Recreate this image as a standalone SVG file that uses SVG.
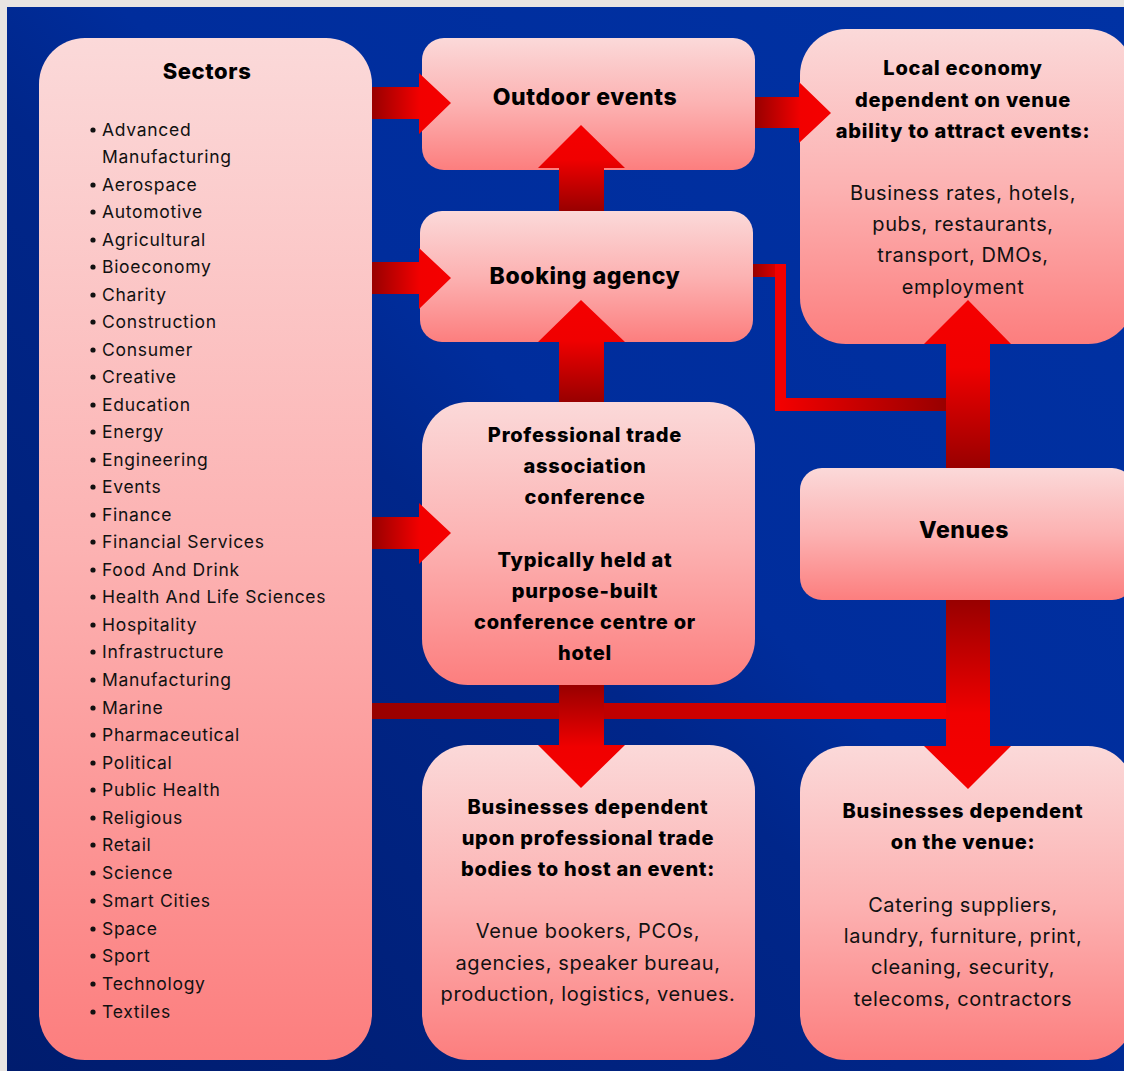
<svg xmlns="http://www.w3.org/2000/svg" width="1124" height="1071" viewBox="0 0 1124 1071">
<defs>
<linearGradient id="bg" x1="0" y1="1" x2="1" y2="0">
<stop offset="0" stop-color="#001c6e"/>
<stop offset="0.45" stop-color="#00268a"/>
<stop offset="0.55" stop-color="#002d9c"/>
<stop offset="1" stop-color="#0032a4"/>
</linearGradient>
<linearGradient id="box" x1="0" y1="0" x2="0" y2="1">
<stop offset="0" stop-color="#fbd9d9"/>
<stop offset="0.5" stop-color="#fcb2b2"/>
<stop offset="1" stop-color="#fc7e7e"/>
</linearGradient>
<linearGradient id="aR" x1="0" y1="0" x2="1" y2="0">
<stop offset="0" stop-color="#980000"/>
<stop offset="0.6" stop-color="#f20000"/>
<stop offset="1" stop-color="#f50000"/>
</linearGradient>
<linearGradient id="aL" x1="1" y1="0" x2="0" y2="0">
<stop offset="0" stop-color="#980000"/>
<stop offset="1" stop-color="#f50000"/>
</linearGradient>
<linearGradient id="aU" x1="0" y1="1" x2="0" y2="0">
<stop offset="0" stop-color="#980000"/>
<stop offset="0.6" stop-color="#f00000"/>
<stop offset="1" stop-color="#f50000"/>
</linearGradient>
<linearGradient id="aD" x1="0" y1="0" x2="0" y2="1">
<stop offset="0" stop-color="#980000"/>
<stop offset="0.6" stop-color="#f00000"/>
<stop offset="1" stop-color="#f50000"/>
</linearGradient>
<linearGradient id="lineR" x1="0" y1="0" x2="1" y2="0">
<stop offset="0" stop-color="#980000"/>
<stop offset="1" stop-color="#f50000"/>
</linearGradient>
</defs>
<style>
.box{fill:url(#box);}
.h{font-family:Inter,"Open Sans","Liberation Sans",sans-serif;font-weight:800;font-size:20px;fill:#000;text-anchor:middle;letter-spacing:0.75px;}
.hl{font-family:Inter,"Open Sans","Liberation Sans",sans-serif;font-weight:800;font-size:23px;fill:#000;text-anchor:middle;letter-spacing:0.6px;}
.b{font-family:Inter,"Open Sans","Liberation Sans",sans-serif;font-weight:400;font-size:20px;fill:#111;text-anchor:middle;letter-spacing:0.6px;}
.li{font-family:Inter,"Open Sans","Liberation Sans",sans-serif;font-weight:400;font-size:17.5px;fill:#111;letter-spacing:0.7px;}
.dot{fill:#111;}
</style>
<rect x="0" y="0" width="1124" height="1071" fill="#e8e5e2"/>
<rect x="7" y="7" width="1117" height="1064" fill="url(#bg)"/>

<g id="sectors">
<rect class="box" x="39" y="38" width="333" height="1022" rx="46"/>
<text class="hl" x="207" y="79" style="font-size:22px">Sectors</text>
<g>
<circle class="dot" cx="93" cy="130" r="2.6"/><text class="li" x="102" y="136">Advanced</text>
<text class="li" x="102" y="163">Manufacturing</text>
<circle class="dot" cx="93" cy="185" r="2.6"/><text class="li" x="102" y="191">Aerospace</text>
<circle class="dot" cx="93" cy="212" r="2.6"/><text class="li" x="102" y="218">Automotive</text>
<circle class="dot" cx="93" cy="240" r="2.6"/><text class="li" x="102" y="246">Agricultural</text>
<circle class="dot" cx="93" cy="267" r="2.6"/><text class="li" x="102" y="273">Bioeconomy</text>
<circle class="dot" cx="93" cy="295" r="2.6"/><text class="li" x="102" y="301">Charity</text>
<circle class="dot" cx="93" cy="322" r="2.6"/><text class="li" x="102" y="328">Construction</text>
<circle class="dot" cx="93" cy="350" r="2.6"/><text class="li" x="102" y="356">Consumer</text>
<circle class="dot" cx="93" cy="377" r="2.6"/><text class="li" x="102" y="383">Creative</text>
<circle class="dot" cx="93" cy="405" r="2.6"/><text class="li" x="102" y="411">Education</text>
<circle class="dot" cx="93" cy="432" r="2.6"/><text class="li" x="102" y="438">Energy</text>
<circle class="dot" cx="93" cy="460" r="2.6"/><text class="li" x="102" y="466">Engineering</text>
<circle class="dot" cx="93" cy="487" r="2.6"/><text class="li" x="102" y="493">Events</text>
<circle class="dot" cx="93" cy="515" r="2.6"/><text class="li" x="102" y="521">Finance</text>
<circle class="dot" cx="93" cy="542" r="2.6"/><text class="li" x="102" y="548">Financial Services</text>
<circle class="dot" cx="93" cy="570" r="2.6"/><text class="li" x="102" y="576">Food And Drink</text>
<circle class="dot" cx="93" cy="597" r="2.6"/><text class="li" x="102" y="603">Health And Life Sciences</text>
<circle class="dot" cx="93" cy="625" r="2.6"/><text class="li" x="102" y="631">Hospitality</text>
<circle class="dot" cx="93" cy="652" r="2.6"/><text class="li" x="102" y="658">Infrastructure</text>
<circle class="dot" cx="93" cy="680" r="2.6"/><text class="li" x="102" y="686">Manufacturing</text>
<circle class="dot" cx="93" cy="708" r="2.6"/><text class="li" x="102" y="714">Marine</text>
<circle class="dot" cx="93" cy="735" r="2.6"/><text class="li" x="102" y="741">Pharmaceutical</text>
<circle class="dot" cx="93" cy="763" r="2.6"/><text class="li" x="102" y="769">Political</text>
<circle class="dot" cx="93" cy="790" r="2.6"/><text class="li" x="102" y="796">Public Health</text>
<circle class="dot" cx="93" cy="818" r="2.6"/><text class="li" x="102" y="824">Religious</text>
<circle class="dot" cx="93" cy="845" r="2.6"/><text class="li" x="102" y="851">Retail</text>
<circle class="dot" cx="93" cy="873" r="2.6"/><text class="li" x="102" y="879">Science</text>
<circle class="dot" cx="93" cy="901" r="2.6"/><text class="li" x="102" y="907">Smart Cities</text>
<circle class="dot" cx="93" cy="929" r="2.6"/><text class="li" x="102" y="935">Space</text>
<circle class="dot" cx="93" cy="956" r="2.6"/><text class="li" x="102" y="962">Sport</text>
<circle class="dot" cx="93" cy="984" r="2.6"/><text class="li" x="102" y="990">Technology</text>
<circle class="dot" cx="93" cy="1012" r="2.6"/><text class="li" x="102" y="1018">Textiles</text>
</g>
</g>

<g id="outdoor">
<rect class="box" x="422" y="38" width="333" height="132" rx="22"/>
<text class="hl" x="585" y="105">Outdoor events</text>
</g>

<g id="booking">
<rect class="box" x="420" y="211" width="333" height="131" rx="22"/>
<text class="hl" x="585" y="284">Booking agency</text>
</g>

<g id="professional">
<rect class="box" x="422" y="402" width="333" height="283" rx="46"/>
<text class="h" x="585" y="442">Professional trade</text>
<text class="h" x="585" y="473">association</text>
<text class="h" x="585" y="504">conference</text>
<text class="h" x="585" y="567">Typically held at</text>
<text class="h" x="585" y="598">purpose-built</text>
<text class="h" x="585" y="629">conference centre or</text>
<text class="h" x="585" y="660">hotel</text>
</g>

<g id="businesses-trade">
<rect class="box" x="422" y="745" width="333" height="315" rx="46"/>
<text class="h" x="588" y="814">Businesses dependent</text>
<text class="h" x="588" y="845">upon professional trade</text>
<text class="h" x="588" y="876">bodies to host an event:</text>
<text class="b" x="588" y="938">Venue bookers, PCOs,</text>
<text class="b" x="588" y="970">agencies, speaker bureau,</text>
<text class="b" x="588" y="1001">production, logistics, venues.</text>
</g>

<g id="local-economy">
<rect class="box" x="800" y="29" width="334" height="315" rx="46"/>
<text class="h" x="963" y="75">Local economy</text>
<text class="h" x="963" y="107">dependent on venue</text>
<text class="h" x="963" y="138">ability to attract events:</text>
<text class="b" x="963" y="200">Business rates, hotels,</text>
<text class="b" x="963" y="231">pubs, restaurants,</text>
<text class="b" x="963" y="262">transport, DMOs,</text>
<text class="b" x="963" y="294">employment</text>
</g>

<g id="venues">
<rect class="box" x="800" y="468" width="334" height="132" rx="22"/>
<text class="hl" x="964" y="538">Venues</text>
</g>

<g id="businesses-venue">
<rect class="box" x="800" y="746" width="334" height="314" rx="46"/>
<text class="h" x="963" y="818">Businesses dependent</text>
<text class="h" x="963" y="849">on the venue:</text>
<text class="b" x="963" y="912">Catering suppliers,</text>
<text class="b" x="963" y="943">laundry, furniture, print,</text>
<text class="b" x="963" y="974">cleaning, security,</text>
<text class="b" x="963" y="1006">telecoms, contractors</text>
</g>

<g id="connectors">
<polygon fill="url(#aR)" points="372,87 419,87 419,73 451,103 419,134 419,119 372,119"/>
<polygon fill="url(#aR)" points="372,262 419,262 419,248 451,278 419,309 419,294 372,294"/>
<polygon fill="url(#aR)" points="372,517 419,517 419,503 451,533 419,564 419,549 372,549"/>
<polygon fill="url(#aR)" points="755,97 799,97 799,82 831,113 799,143 799,128 755,128"/>
<polygon fill="url(#aU)" points="559,211 559,168 538,168 581,125 625,168 604,168 604,211"/>
<polygon fill="url(#aU)" points="559,402 559,342 538,342 581,300 625,342 604,342 604,402"/>
<rect x="372" y="703" width="574" height="16" fill="url(#lineR)"/>
<polygon fill="url(#aD)" points="559,685 604,685 604,745 625,745 581,788 538,745 559,745"/>
<rect x="753" y="264" width="33" height="13" fill="url(#lineR)"/>
<rect x="775" y="264" width="11" height="147" fill="#f20000"/>
<rect x="775" y="398" width="171" height="13" fill="url(#aL)"/>
<polygon fill="url(#aU)" points="946,468 946,344 924,344 968,300 1011,344 990,344 990,468"/>
<polygon fill="url(#aD)" points="946,600 990,600 990,746 1011,746 968,789 924,746 946,746"/>
</g>
</svg>
